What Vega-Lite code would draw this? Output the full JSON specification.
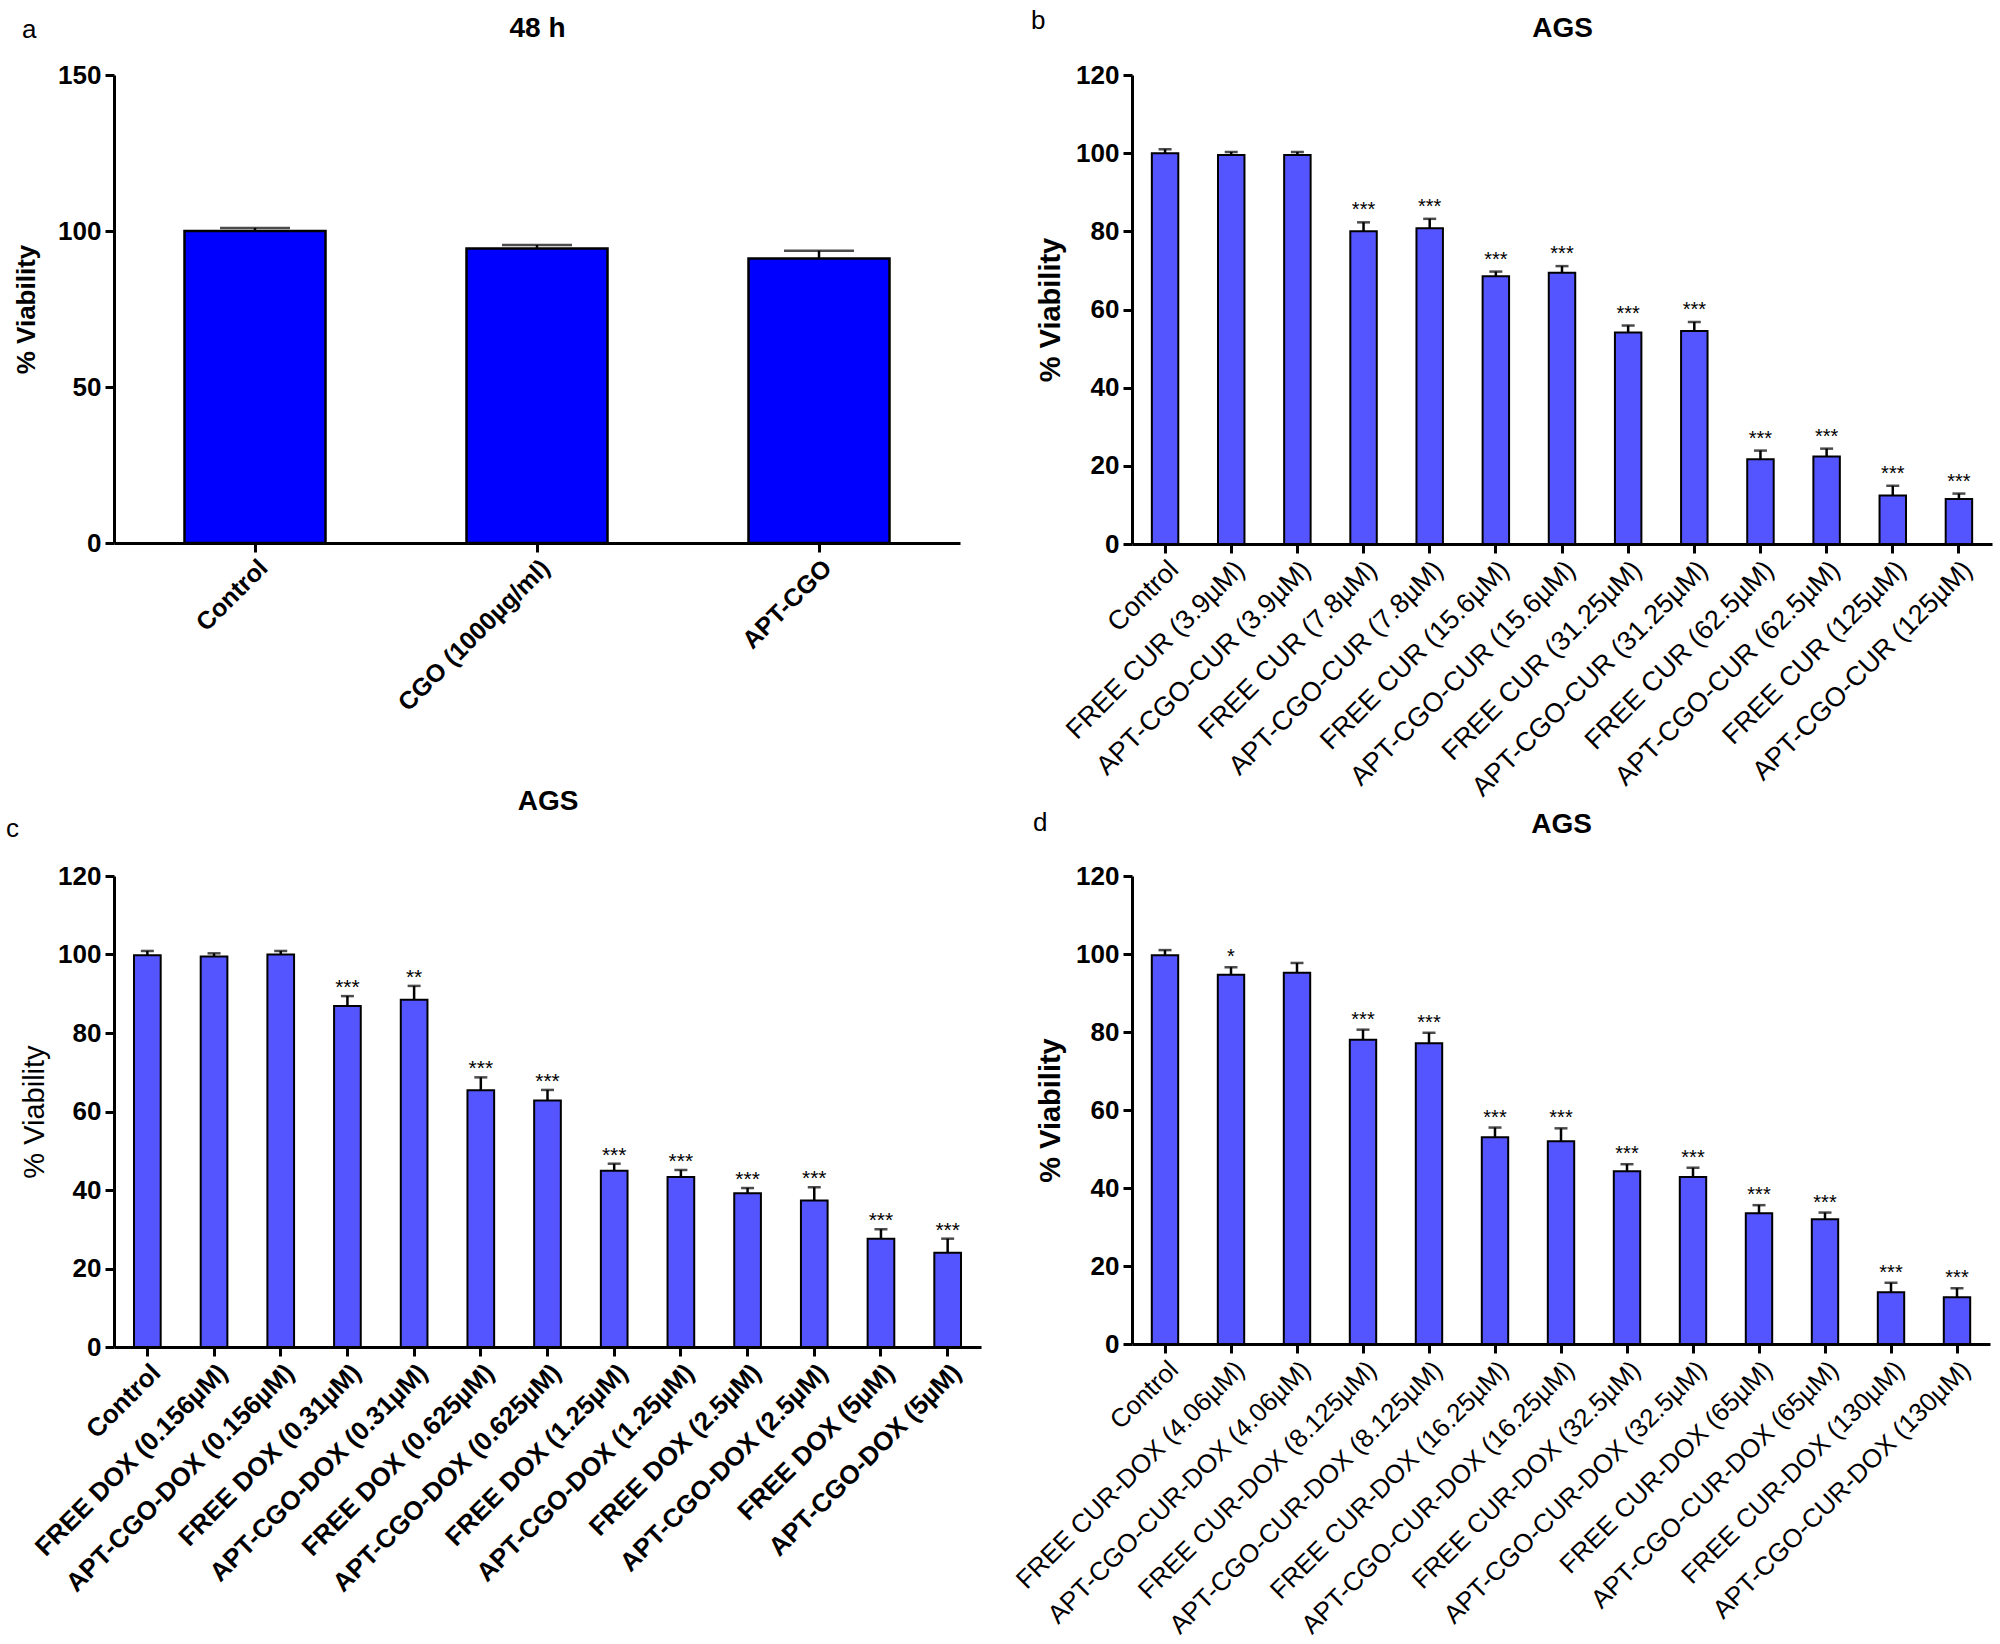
{
  "$schema": "https://vega.github.io/schema/vega-lite/v6.json",
  "padding": {"left": 6, "top": 8, "right": 5, "bottom": 5},
  "background": "white",
  "config": {
    "font": "Liberation Sans",
    "view": {"stroke": null},
    "axis": {"domainColor": "black", "domainWidth": 3, "tickColor": "black", "tickWidth": 3, "tickSize": 9, "labelColor": "black", "titleColor": "black", "grid": false},
    "title": {"font": "Liberation Sans", "fontWeight": "normal", "fontSize": 26, "color": "black", "anchor": "start", "frame": "group"}
  },
  "datasets": {
    "a": [
      {"g": "Control", "v": 100, "hi": 101, "sig": ""},
      {"g": "CGO (1000µg/ml)", "v": 94.4, "hi": 95.5, "sig": ""},
      {"g": "APT-CGO", "v": 91.2, "hi": 93.7, "sig": ""}
    ],
    "b": [
      {"g": "Control", "v": 100, "hi": 101, "sig": ""},
      {"g": "FREE CUR (3.9µM)", "v": 99.5, "hi": 100.3, "sig": ""},
      {"g": "APT-CGO-CUR (3.9µM)", "v": 99.5, "hi": 100.3, "sig": ""},
      {"g": "FREE CUR (7.8µM)", "v": 80.0, "hi": 82.3, "sig": "***"},
      {"g": "APT-CGO-CUR (7.8µM)", "v": 80.8, "hi": 83.2, "sig": "***"},
      {"g": "FREE CUR (15.6µM)", "v": 68.5, "hi": 69.7, "sig": "***"},
      {"g": "APT-CGO-CUR (15.6µM)", "v": 69.4, "hi": 71.1, "sig": "***"},
      {"g": "FREE CUR (31.25µM)", "v": 54.1, "hi": 55.9, "sig": "***"},
      {"g": "APT-CGO-CUR (31.25µM)", "v": 54.5, "hi": 56.8, "sig": "***"},
      {"g": "FREE CUR (62.5µM)", "v": 21.7, "hi": 23.9, "sig": "***"},
      {"g": "APT-CGO-CUR (62.5µM)", "v": 22.4, "hi": 24.4, "sig": "***"},
      {"g": "FREE CUR (125µM)", "v": 12.4, "hi": 14.9, "sig": "***"},
      {"g": "APT-CGO-CUR (125µM)", "v": 11.5, "hi": 12.9, "sig": "***"}
    ],
    "c": [
      {"g": "Control", "v": 99.8, "hi": 100.9, "sig": ""},
      {"g": "FREE DOX (0.156µM)", "v": 99.5, "hi": 100.3, "sig": ""},
      {"g": "APT-CGO-DOX (0.156µM)", "v": 100, "hi": 100.9, "sig": ""},
      {"g": "FREE DOX (0.31µM)", "v": 86.9, "hi": 89.4, "sig": "***"},
      {"g": "APT-CGO-DOX (0.31µM)", "v": 88.5, "hi": 92.0, "sig": "**"},
      {"g": "FREE DOX (0.625µM)", "v": 65.4, "hi": 68.7, "sig": "***"},
      {"g": "APT-CGO-DOX (0.625µM)", "v": 62.8, "hi": 65.5, "sig": "***"},
      {"g": "FREE DOX (1.25µM)", "v": 44.9, "hi": 46.7, "sig": "***"},
      {"g": "APT-CGO-DOX (1.25µM)", "v": 43.3, "hi": 45.1, "sig": "***"},
      {"g": "FREE DOX (2.5µM)", "v": 39.2, "hi": 40.5, "sig": "***"},
      {"g": "APT-CGO-DOX (2.5µM)", "v": 37.3, "hi": 40.7, "sig": "***"},
      {"g": "FREE DOX (5µM)", "v": 27.6, "hi": 30.0, "sig": "***"},
      {"g": "APT-CGO-DOX (5µM)", "v": 24.0, "hi": 27.6, "sig": "***"}
    ],
    "d": [
      {"g": "Control", "v": 99.7, "hi": 101.0, "sig": ""},
      {"g": "FREE CUR-DOX (4.06µM)", "v": 94.7, "hi": 96.6, "sig": "*"},
      {"g": "APT-CGO-CUR-DOX (4.06µM)", "v": 95.2, "hi": 97.7, "sig": ""},
      {"g": "FREE CUR-DOX (8.125µM)", "v": 78.0, "hi": 80.6, "sig": "***"},
      {"g": "APT-CGO-CUR-DOX (8.125µM)", "v": 77.1, "hi": 79.8, "sig": "***"},
      {"g": "FREE CUR-DOX (16.25µM)", "v": 53.0, "hi": 55.5, "sig": "***"},
      {"g": "APT-CGO-CUR-DOX (16.25µM)", "v": 52.0, "hi": 55.3, "sig": "***"},
      {"g": "FREE CUR-DOX (32.5µM)", "v": 44.3, "hi": 46.1, "sig": "***"},
      {"g": "APT-CGO-CUR-DOX (32.5µM)", "v": 42.8, "hi": 45.2, "sig": "***"},
      {"g": "FREE CUR-DOX (65µM)", "v": 33.5, "hi": 35.6, "sig": "***"},
      {"g": "APT-CGO-CUR-DOX (65µM)", "v": 32.0, "hi": 33.7, "sig": "***"},
      {"g": "FREE CUR-DOX (130µM)", "v": 13.3, "hi": 15.7, "sig": "***"},
      {"g": "APT-CGO-CUR-DOX (130µM)", "v": 12.0, "hi": 14.3, "sig": "***"}
    ]
  },
  "concat": [
    {
      "width": 846, "height": 468,
      "data": {"name": "a"},
      "title": {"text": "a", "dx": -92, "dy": 33},
      "layer": [
        {
          "mark": {"type": "bar", "fill": "#0000FF", "stroke": "black", "strokeWidth": 2.5},
          "encoding": {
            "x": {"field": "g", "type": "nominal", "sort": null, "scale": {"paddingInner": 0.5, "paddingOuter": 0.25},
              "axis": {"labelAngle": -45, "labelFontSize": 25, "labelFontWeight": "bold", "labelLimit": 0, "labelPadding": 3, "title": null}},
            "y": {"field": "v", "type": "quantitative", "scale": {"domain": [0, 150], "nice": false},
              "axis": {"values": [0, 50, 100, 150], "labelFontSize": 26, "labelFontWeight": "bold", "labelPadding": 4, "title": "% Viability", "titleFontSize": 26, "titleFontWeight": "bold", "titlePadding": 18}}
          }
        },
        {
          "mark": {"type": "rule", "strokeWidth": 2.5, "color": "black"},
          "encoding": {
            "x": {"field": "g", "type": "nominal", "sort": null, "axis": null},
            "y": {"field": "v", "type": "quantitative", "scale": {"domain": [0, 150], "nice": false},
              "axis": {"values": [0, 50, 100, 150], "labelFontSize": 26, "labelFontWeight": "bold", "labelPadding": 4, "title": "% Viability", "titleFontSize": 26, "titleFontWeight": "bold", "titlePadding": 18}},
            "y2": {"field": "hi"}
          }
        },
        {
          "mark": {"type": "tick", "size": 70, "thickness": 2.5, "color": "black"},
          "encoding": {
            "x": {"field": "g", "type": "nominal", "sort": null,
              "axis": {"orient": "top", "labels": false, "ticks": false, "domain": false, "title": "48 h", "titleFontSize": 28, "titleFontWeight": "bold", "titlePadding": 33}},
            "y": {"field": "hi", "type": "quantitative", "scale": {"domain": [0, 150], "nice": false},
              "axis": {"values": [0, 50, 100, 150], "labelFontSize": 26, "labelFontWeight": "bold", "labelPadding": 4, "title": "% Viability", "titleFontSize": 26, "titleFontWeight": "bold", "titlePadding": 18}}
          }
        }
      ],
      "resolve": {"axis": {"x": "independent"}}
    },
    {
      "width": 860, "height": 469,
      "data": {"name": "b"},
      "title": {"text": "b", "dx": -101, "dy": 24},
      "layer": [
        {
          "mark": {"type": "bar", "fill": "#5555FF", "stroke": "black", "strokeWidth": 2},
          "encoding": {
            "x": {"field": "g", "type": "nominal", "sort": null, "scale": {"paddingInner": 0.6, "paddingOuter": 0.3},
              "axis": {"labelAngle": -45, "labelFontSize": 27, "labelFontWeight": "normal", "labelLimit": 0, "labelPadding": 3, "title": null}},
            "y": {"field": "v", "type": "quantitative", "scale": {"domain": [0, 120], "nice": false},
              "axis": {"values": [0, 20, 40, 60, 80, 100, 120], "labelFontSize": 26, "labelFontWeight": "bold", "labelPadding": 4, "title": "% Viability", "titleFontSize": 29, "titleFontWeight": "bold", "titlePadding": 10}}
          }
        },
        {
          "mark": {"type": "rule", "strokeWidth": 2.5, "color": "black"},
          "encoding": {
            "x": {"field": "g", "type": "nominal", "sort": null, "axis": null},
            "y": {"field": "v", "type": "quantitative", "scale": {"domain": [0, 120], "nice": false},
              "axis": {"values": [0, 20, 40, 60, 80, 100, 120], "labelFontSize": 26, "labelFontWeight": "bold", "labelPadding": 4, "title": "% Viability", "titleFontSize": 29, "titleFontWeight": "bold", "titlePadding": 10}},
            "y2": {"field": "hi"}
          }
        },
        {
          "mark": {"type": "tick", "size": 13, "thickness": 2.5, "color": "black"},
          "encoding": {
            "x": {"field": "g", "type": "nominal", "sort": null,
              "axis": {"orient": "top", "labels": false, "ticks": false, "domain": false, "title": "AGS", "titleFontSize": 28, "titleFontWeight": "bold", "titlePadding": 33}},
            "y": {"field": "hi", "type": "quantitative", "scale": {"domain": [0, 120], "nice": false},
              "axis": {"values": [0, 20, 40, 60, 80, 100, 120], "labelFontSize": 26, "labelFontWeight": "bold", "labelPadding": 4, "title": "% Viability", "titleFontSize": 29, "titleFontWeight": "bold", "titlePadding": 10}}
          }
        },
        {
          "mark": {"type": "text", "fontSize": 20, "baseline": "alphabetic", "dy": -6, "color": "black"},
          "encoding": {
            "x": {"field": "g", "type": "nominal", "sort": null, "axis": null},
            "y": {"field": "hi", "type": "quantitative", "scale": {"domain": [0, 120], "nice": false},
              "axis": {"values": [0, 20, 40, 60, 80, 100, 120], "labelFontSize": 26, "labelFontWeight": "bold", "labelPadding": 4, "title": "% Viability", "titleFontSize": 29, "titleFontWeight": "bold", "titlePadding": 10}},
            "text": {"field": "sig"}
          }
        }
      ],
      "resolve": {"axis": {"x": "independent"}}
    },
    {
      "width": 867, "height": 471,
      "data": {"name": "c"},
      "title": {"text": "c", "dx": -108, "dy": 59},
      "layer": [
        {
          "mark": {"type": "bar", "fill": "#5555FF", "stroke": "black", "strokeWidth": 2},
          "encoding": {
            "x": {"field": "g", "type": "nominal", "sort": null, "scale": {"paddingInner": 0.6, "paddingOuter": 0.3},
              "axis": {"labelAngle": -45, "labelFontSize": 26, "labelFontWeight": "bold", "labelLimit": 0, "labelPadding": 3, "title": null}},
            "y": {"field": "v", "type": "quantitative", "scale": {"domain": [0, 120], "nice": false},
              "axis": {"values": [0, 20, 40, 60, 80, 100, 120], "labelFontSize": 26, "labelFontWeight": "bold", "labelPadding": 4, "title": "% Viability", "titleFontSize": 29, "titleFontWeight": "normal", "titlePadding": 8}}
          }
        },
        {
          "mark": {"type": "rule", "strokeWidth": 2.5, "color": "black"},
          "encoding": {
            "x": {"field": "g", "type": "nominal", "sort": null, "axis": null},
            "y": {"field": "v", "type": "quantitative", "scale": {"domain": [0, 120], "nice": false},
              "axis": {"values": [0, 20, 40, 60, 80, 100, 120], "labelFontSize": 26, "labelFontWeight": "bold", "labelPadding": 4, "title": "% Viability", "titleFontSize": 29, "titleFontWeight": "normal", "titlePadding": 8}},
            "y2": {"field": "hi"}
          }
        },
        {
          "mark": {"type": "tick", "size": 13, "thickness": 2.5, "color": "black"},
          "encoding": {
            "x": {"field": "g", "type": "nominal", "sort": null,
              "axis": {"orient": "top", "labels": false, "ticks": false, "domain": false, "title": "AGS", "titleFontSize": 28, "titleFontWeight": "bold", "titlePadding": 61}},
            "y": {"field": "hi", "type": "quantitative", "scale": {"domain": [0, 120], "nice": false},
              "axis": {"values": [0, 20, 40, 60, 80, 100, 120], "labelFontSize": 26, "labelFontWeight": "bold", "labelPadding": 4, "title": "% Viability", "titleFontSize": 29, "titleFontWeight": "normal", "titlePadding": 8}}
          }
        },
        {
          "mark": {"type": "text", "fontSize": 21, "baseline": "alphabetic", "dy": -2, "color": "black"},
          "encoding": {
            "x": {"field": "g", "type": "nominal", "sort": null, "axis": null},
            "y": {"field": "hi", "type": "quantitative", "scale": {"domain": [0, 120], "nice": false},
              "axis": {"values": [0, 20, 40, 60, 80, 100, 120], "labelFontSize": 26, "labelFontWeight": "bold", "labelPadding": 4, "title": "% Viability", "titleFontSize": 29, "titleFontWeight": "normal", "titlePadding": 8}},
            "text": {"field": "sig"}
          }
        }
      ],
      "resolve": {"axis": {"x": "independent"}}
    },
    {
      "width": 858, "height": 468,
      "data": {"name": "d"},
      "title": {"text": "d", "dx": -99, "dy": 30},
      "layer": [
        {
          "mark": {"type": "bar", "fill": "#5555FF", "stroke": "black", "strokeWidth": 2},
          "encoding": {
            "x": {"field": "g", "type": "nominal", "sort": null, "scale": {"paddingInner": 0.6, "paddingOuter": 0.3},
              "axis": {"labelAngle": -45, "labelFontSize": 26, "labelFontWeight": "normal", "labelLimit": 0, "labelPadding": 3, "title": null}},
            "y": {"field": "v", "type": "quantitative", "scale": {"domain": [0, 120], "nice": false},
              "axis": {"values": [0, 20, 40, 60, 80, 100, 120], "labelFontSize": 26, "labelFontWeight": "bold", "labelPadding": 4, "title": "% Viability", "titleFontSize": 29, "titleFontWeight": "bold", "titlePadding": 10}}
          }
        },
        {
          "mark": {"type": "rule", "strokeWidth": 2.5, "color": "black"},
          "encoding": {
            "x": {"field": "g", "type": "nominal", "sort": null, "axis": null},
            "y": {"field": "v", "type": "quantitative", "scale": {"domain": [0, 120], "nice": false},
              "axis": {"values": [0, 20, 40, 60, 80, 100, 120], "labelFontSize": 26, "labelFontWeight": "bold", "labelPadding": 4, "title": "% Viability", "titleFontSize": 29, "titleFontWeight": "bold", "titlePadding": 10}},
            "y2": {"field": "hi"}
          }
        },
        {
          "mark": {"type": "tick", "size": 13, "thickness": 2.5, "color": "black"},
          "encoding": {
            "x": {"field": "g", "type": "nominal", "sort": null,
              "axis": {"orient": "top", "labels": false, "ticks": false, "domain": false, "title": "AGS", "titleFontSize": 28, "titleFontWeight": "bold", "titlePadding": 38}},
            "y": {"field": "hi", "type": "quantitative", "scale": {"domain": [0, 120], "nice": false},
              "axis": {"values": [0, 20, 40, 60, 80, 100, 120], "labelFontSize": 26, "labelFontWeight": "bold", "labelPadding": 4, "title": "% Viability", "titleFontSize": 29, "titleFontWeight": "bold", "titlePadding": 10}}
          }
        },
        {
          "mark": {"type": "text", "fontSize": 20, "baseline": "alphabetic", "dy": -4, "color": "black"},
          "encoding": {
            "x": {"field": "g", "type": "nominal", "sort": null, "axis": null},
            "y": {"field": "hi", "type": "quantitative", "scale": {"domain": [0, 120], "nice": false},
              "axis": {"values": [0, 20, 40, 60, 80, 100, 120], "labelFontSize": 26, "labelFontWeight": "bold", "labelPadding": 4, "title": "% Viability", "titleFontSize": 29, "titleFontWeight": "bold", "titlePadding": 10}},
            "text": {"field": "sig"}
          }
        }
      ],
      "resolve": {"axis": {"x": "independent"}}
    }
  ],
  "columns": 2,
  "spacing": {"column": 151, "row": 332},
  "bounds": "flush"
}
